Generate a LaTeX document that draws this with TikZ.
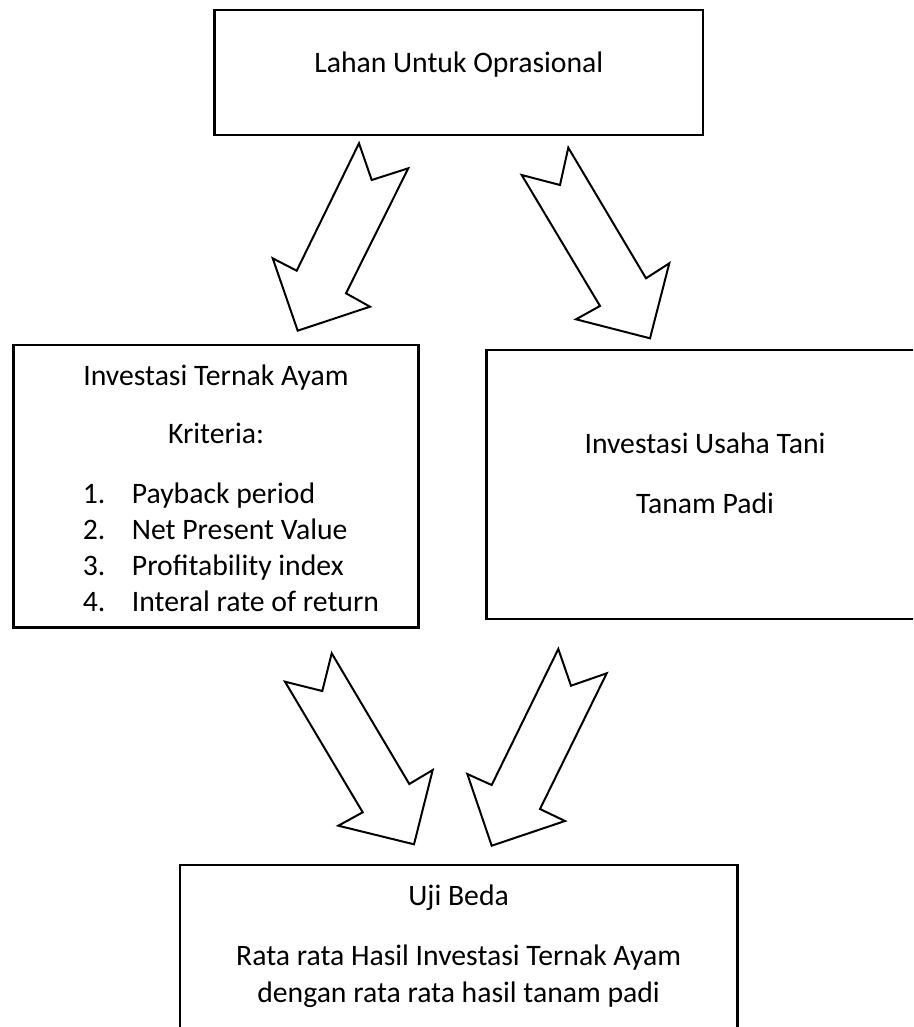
\documentclass[tikz,border=0pt]{standalone}
\usepackage{fontspec}
\setmainfont{Carlito}
\begin{document}
\begin{tikzpicture}[x=1pt,y=-1pt,
  box/.style={draw=black,line width=2.5pt,fill=none,inner sep=0pt},
  lbl/.style={inner sep=0pt,anchor=base,font=\fontsize{29.7}{36}\selectfont},
  item/.style={inner sep=0pt,anchor=base west,font=\fontsize{29.7}{36}\selectfont},
  blockarrow/.style={draw=black,line width=2pt,line join=miter,fill=white}]
\useasboundingbox (0,0) rectangle (913,1027);
\clip (0,0) rectangle (913,1027);
\fill[white] (0,0) rectangle (913,1027);
% boxes
\node[box,minimum width=488.4pt,minimum height=125pt] (topbox) at (458.8,72.5) {};
\node[box,minimum width=405pt,minimum height=282.7pt] (leftbox) at (215.8,486.3) {};
\node[box,minimum width=436.6pt,minimum height=268.7pt] (rightbox) at (704.8,484.4) {};
\node[box,minimum width=557.3pt,minimum height=200pt] (botbox) at (458.6,965) {};
% texts
\node[lbl] (t1) at (458.8,73) {Lahan Untuk Oprasional};
\node[lbl] (l1) at (216,385) {Investasi Ternak Ayam};
\node[lbl] (l2) at (216,443) {Kriteria:};
\node[item] (n1) at (82.7,503) {1.};
\node[item] (n2) at (82.7,539) {2.};
\node[item] (n3) at (82.7,575) {3.};
\node[item] (n4) at (82.7,611) {4.};
\node[item] (i1) at (131.7,503) {Payback period};
\node[item] (i2) at (131.7,539) {Net Present Value};
\node[item] (i3) at (131.7,575) {Profitability index};
\node[item] (i4) at (131.7,611) {Interal rate of return};
\node[lbl] (r1) at (705,453) {Investasi Usaha Tani};
\node[lbl] (r2) at (705,513) {Tanam Padi};
\node[lbl] (b1) at (458.6,905) {Uji Beda};
\node[lbl] (b2) at (458.6,965) {Rata rata Hasil Investasi Ternak Ayam};
\node[lbl] (b3) at (458.6,1002) {dengan rata rata hasil tanam padi};
% notched block arrows
\draw[blockarrow] (359,143.3) -- (371.7,180) -- (408.3,168.3) -- (346,293.3) -- (370,306.7) -- (297.7,330.7) -- (272.7,258.3) -- (296.7,270.7) -- cycle;
\draw[blockarrow] (568.3,147.7) -- (560,185) -- (521.7,175) -- (600,306) -- (576,319.3) -- (650,338.3) -- (669.3,263.3) -- (646,278.3) -- cycle;
\draw[blockarrow] (331.7,653.3) -- (322.3,691) -- (285,681.7) -- (362.7,812.3) -- (338.3,825.7) -- (414,844.3) -- (432.7,770) -- (409.3,784) -- cycle;
\draw[blockarrow] (558.3,649) -- (571,685.7) -- (606.7,673.3) -- (540,809) -- (565,821) -- (491.7,845.7) -- (467.3,774) -- (491.7,785) -- cycle;
\end{tikzpicture}
\end{document}
